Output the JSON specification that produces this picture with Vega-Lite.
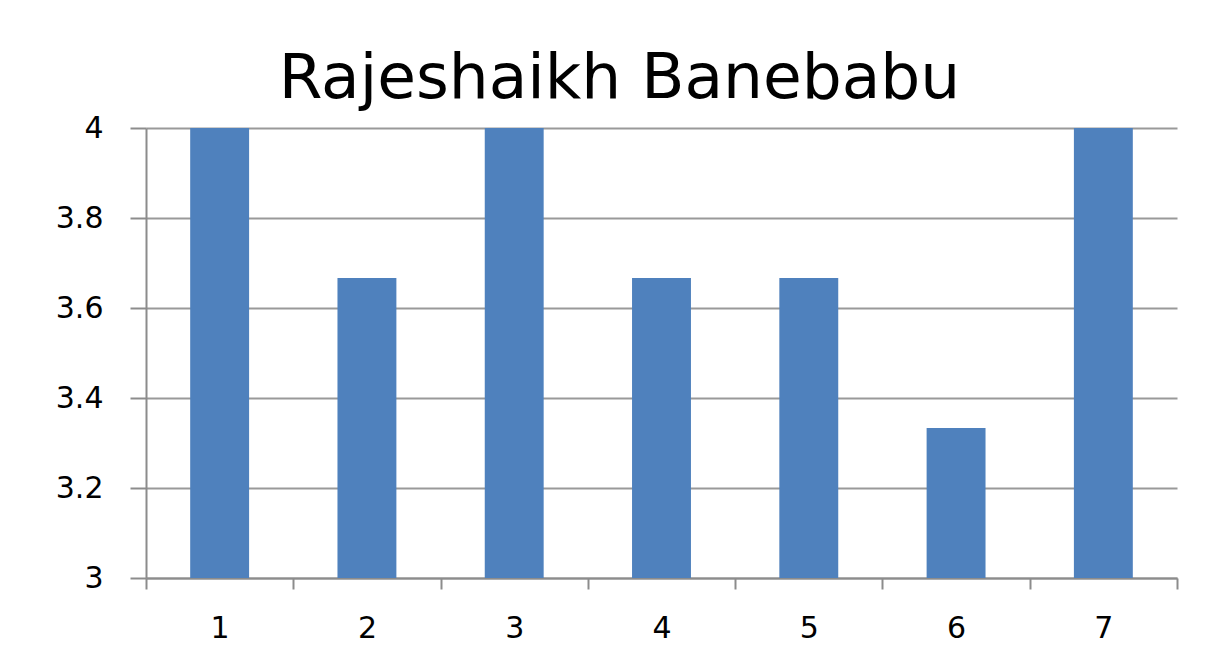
{
  "$schema": "https://vega.github.io/schema/vega-lite/v6.json",
  "width": 1031,
  "height": 450,
  "autosize": {"type": "none"},
  "padding": {"left": 146, "top": 128, "right": 39, "bottom": 85},
  "background": "white",
  "title": {
    "text": "Rajeshaikh Banebabu",
    "font": "DejaVu Sans",
    "fontSize": 63,
    "fontWeight": "normal",
    "color": "#000000",
    "anchor": "middle",
    "dx": -42,
    "dy": 58,
    "baseline": "alphabetic",
    "offset": 10
  },
  "data": {
    "values": [
      {"x": "1", "v": 4},
      {"x": "2", "v": 3.6667},
      {"x": "3", "v": 4},
      {"x": "4", "v": 3.6667},
      {"x": "5", "v": 3.6667},
      {"x": "6", "v": 3.3333},
      {"x": "7", "v": 4}
    ]
  },
  "mark": {"type": "bar", "color": "#4F81BD", "clip": true, "width": {"band": 0.4}},
  "encoding": {
    "x": {
      "field": "x",
      "type": "ordinal",
      "scale": {"paddingInner": 0, "paddingOuter": 0},
      "axis": {
        "title": null,
        "labelAngle": 0,
        "labelFont": "DejaVu Sans",
        "labelFontSize": 30,
        "labelColor": "#000000",
        "labelPadding": 24,
        "tickBand": "extent",
        "tickSize": 11,
        "tickColor": "#8C8C8C",
        "tickWidth": 2,
        "domainColor": "#8C8C8C",
        "domainWidth": 2,
        "grid": false
      }
    },
    "y": {
      "field": "v",
      "type": "quantitative",
      "scale": {"domain": [3, 4], "zero": false},
      "axis": {
        "title": null,
        "values": [3, 3.2, 3.4, 3.6, 3.8, 4],
        "format": "~g",
        "labelFont": "DejaVu Sans",
        "labelFontSize": 30,
        "labelColor": "#000000",
        "labelPadding": 27,
        "tickSize": 16,
        "tickColor": "#8C8C8C",
        "tickWidth": 2,
        "domainColor": "#8C8C8C",
        "domainWidth": 2,
        "grid": true,
        "gridColor": "#999999",
        "gridWidth": 2
      }
    }
  },
  "config": {"view": {"stroke": null}}
}
